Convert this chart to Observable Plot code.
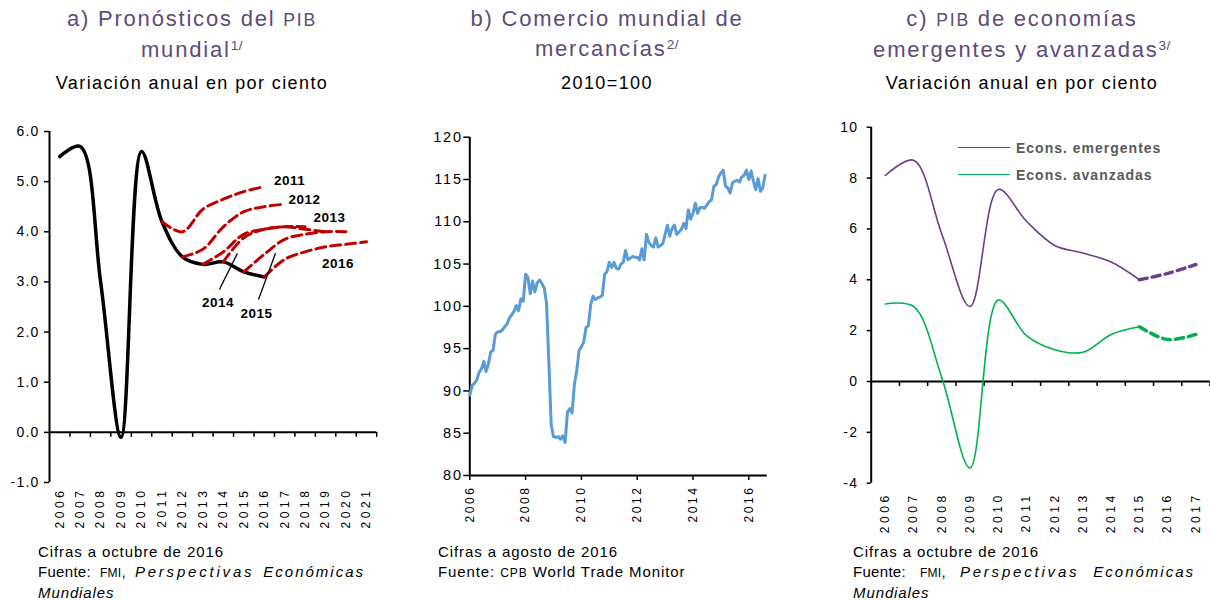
<!DOCTYPE html>
<html>
<head>
<meta charset="utf-8">
<script src="https://cdn.jsdelivr.net/npm/d3@7"></script>
<script src="https://cdn.jsdelivr.net/npm/@observablehq/plot@0.6"></script>
<style>
  body { margin: 0; background: #fff; font-family: "Liberation Sans", Arial, sans-serif; }
  #root { position: relative; width: 1210px; height: 600px; overflow: hidden; background: #fff; }
  .title { position: absolute; width: 400px; color: #604A7B; font-size: 22px; letter-spacing: 1.8px; line-height: 30px; text-align: center; white-space: nowrap; }
  .sub { position: absolute; width: 400px; color: #000; font-size: 18px; letter-spacing: 1.4px; line-height: 20px; text-align: center; white-space: nowrap; }
  .sc { font-size: 80%; }
  sup { font-size: 62%; line-height: 0; vertical-align: 0.55em; letter-spacing: 0.5px; }
  .note { position: absolute; font-size: 15px; letter-spacing: 0.9px; line-height: 20px; color: #000; white-space: nowrap; }
  .spread { display: flex; justify-content: space-between; }
  .spread span { display: inline-block; }
  .w1 { letter-spacing: 0.3px; }
  .w2 { letter-spacing: 0.3px; }
  .w3 { letter-spacing: 2.8px; font-style: italic; }
  .w4 { letter-spacing: 2px; font-style: italic; }
  .panel { position: absolute; top: 100px; }
  .legline { position: absolute; height: 0; }
  .legtext { position: absolute; font-size: 14px; font-weight: bold; color: #595959; letter-spacing: 1px; line-height: 18px; white-space: nowrap; }
</style>
</head>
<body>
<div id="root">
  <div class="title" style="left:-8px;top:4px;">a) Pronósticos del <span class="sc">PIB</span><br>mundial<sup>1/</sup></div>
  <div class="sub" style="left:-8px;top:73px;">Variación anual en por ciento</div>

  <div class="title" style="left:407px;top:4px;">b) Comercio mundial de<br>mercancías<sup>2/</sup></div>
  <div class="sub" style="left:407px;top:73px;">2010=100</div>

  <div class="title" style="left:822px;top:4px;">c) <span class="sc">PIB</span> de economías<br>emergentes y avanzadas<sup>3/</sup></div>
  <div class="sub" style="left:822px;top:73px;">Variación anual en por ciento</div>

  <div id="pa" class="panel" style="left:0px;"></div>
  <div id="pb" class="panel" style="left:420px;"></div>
  <div id="pc" class="panel" style="left:830px;"></div>

  <div class="legline" style="left:958px;top:146.5px;width:52px;border-top:1.6px solid #6B3F8B;"></div>
  <div class="legtext" style="left:1016px;top:138.5px;">Econs. emergentes</div>
  <div class="legline" style="left:958px;top:173.5px;width:52px;border-top:1.6px solid #00B050;"></div>
  <div class="legtext" style="left:1016px;top:165.5px;">Econs. avanzadas</div>

  <div class="note" style="left:38px;top:542px;width:327px;">
    <div>Cifras a octubre de 2016</div>
    <div class="spread"><span class="w1">Fuente:</span><span class="w2"><span class="sc">FMI</span>,</span><span class="w3">Perspectivas</span><span class="w4">Económicas</span></div>
    <div><i>Mundiales</i></div>
  </div>
  <div class="note" style="left:438px;top:542px;width:330px;">
    <div>Cifras a agosto de 2016</div>
    <div>Fuente: <span class="sc">CPB</span> World Trade Monitor</div>
  </div>
  <div class="note" style="left:853px;top:542px;width:342px;">
    <div>Cifras a octubre de 2016</div>
    <div class="spread"><span class="w1">Fuente:</span><span class="w2"><span class="sc">FMI</span>,</span><span class="w3">Perspectivas</span><span class="w4">Económicas</span></div>
    <div><i>Mundiales</i></div>
  </div>
</div>

<script>
// ---------------- Panel a: world GDP forecasts ----------------
const yearsA = [2006, 2007, 2008, 2009, 2010, 2011, 2012, 2013, 2014, 2015, 2016, 2017, 2018, 2019, 2020, 2021];
const yTicksA = [-1, 0, 1, 2, 3, 4, 5, 6];
const gdpYears = [2006, 2007, 2008, 2009, 2010, 2011, 2012, 2013, 2014, 2015, 2016];
const worldGdp = [5.5, 5.7, 3.0, -0.1, 5.6, 4.2, 3.5, 3.35, 3.4, 3.2, 3.1];
const vintages = ["2011", "2012", "2013", "2014", "2015", "2016"];
const forecast2011 = [4.2, 4.0, 4.45, 4.65, 4.8, 4.9];    // 2011-2016
const forecast2012 = [3.5, 3.65, 4.1, 4.4, 4.5, 4.55];    // 2012-2017
const forecast2013 = [3.35, 3.6, 3.95, 4.05, 4.1, 4.1];   // 2013-2018
const forecast2014 = [3.4, 3.88, 4.05, 4.1, 4.05, 4.0];   // 2014-2019
const forecast2015 = [3.2, 3.55, 3.85, 3.95, 4.0, 4.0];   // 2015-2020
const forecast2016 = [3.1, 3.45, 3.6, 3.7, 3.75, 3.8];    // 2016-2021
const forecastLabels = [
  {text: "2011", year: 2017.24, value: 5.01},
  {text: "2012", year: 2017.97, value: 4.64},
  {text: "2013", year: 2019.19, value: 4.28},
  {text: "2016", year: 2019.61, value: 3.36},
  {text: "2014", year: 2013.74, value: 2.58},
  {text: "2015", year: 2015.62, value: 2.36}
];
const leaders = [
  {year1: 2013.81, value1: 2.85, year2: 2014.69, value2: 3.57},
  {year1: 2015.72, value1: 2.65, year2: 2016.55, value2: 3.57}
];

// ---------------- Panel b: world trade ----------------
const tradeStartYear = 2006;
const tradeIndex = [
  89.5, 90.6, 90.9, 91.3, 92.2, 92.6, 93.5, 92.3, 93.2, 94.6, 94.8, 96.7,
  97.0, 97.0, 97.2, 97.6, 97.9, 98.6, 99.0, 99.4, 100.1, 99.5, 100.9, 100.6,
  103.8, 103.4, 101.5, 103.0, 101.7, 102.8, 103.1, 102.7, 102.2, 100.4, 93.5, 86.0,
  84.6, 84.5, 84.6, 84.3, 84.7, 83.9, 87.5, 87.9, 87.4, 90.8, 92.4, 94.8,
  95.2, 95.8, 97.5, 97.7, 100.2, 101.2, 100.8, 101.0, 101.1, 101.3, 103.8, 104.1,
  105.2, 104.6, 105.2, 104.5, 104.4, 105.0, 105.2, 106.6, 105.5, 105.7, 105.9, 105.8,
  105.8, 105.5, 106.8, 105.5, 108.5, 107.6, 107.2, 107.0, 108.1, 107.0, 107.2, 107.4,
  108.5, 109.6, 108.3, 109.2, 109.6, 108.5, 108.8, 109.1, 109.8, 109.2, 111.4, 110.3,
  111.0, 112.2, 111.0, 111.7, 111.7, 111.6, 112.0, 112.4, 112.6, 114.2, 114.4, 115.3,
  115.8, 116.1, 114.2, 114.0, 113.4, 114.6, 114.8, 114.9, 114.7, 115.3, 115.5, 116.1,
  115.0, 116.0, 114.8, 113.8, 115.1, 113.6, 114.0, 115.5
];
const yearsB = [2006, 2008, 2010, 2012, 2014, 2016];
const yTicksB = [80, 85, 90, 95, 100, 105, 110, 115, 120];

// ---------------- Panel c: emerging vs advanced ----------------
const yearsC = [2006, 2007, 2008, 2009, 2010, 2011, 2012, 2013, 2014, 2015, 2016, 2017];
const emerging = [8.1, 8.7, 5.8, 2.95, 7.55, 6.3, 5.35, 5.05, 4.7, 4.0, 4.25, 4.6];
const advanced = [3.05, 2.95, 0.15, -3.4, 3.2, 1.8, 1.25, 1.15, 1.85, 2.15, 1.65, 1.85];
const lastActualYear = 2015;
const yTicksC = [-4, -2, 0, 2, 4, 6, 8, 10];

const FONT = '"Liberation Sans", Arial, sans-serif';
const baseStyle = {fontFamily: FONT, fontSize: "14px", color: "#000", background: "none", overflow: "visible"};

function spacingAxis(svg, value) {
  d3.select(svg).selectAll('g[aria-label="y-axis tick label"] text').style("letter-spacing", value);
}
function spacingRotated(svg, value) {
  d3.select(svg).selectAll("text")
    .filter(function () { return (this.getAttribute("transform") || "").includes("rotate"); })
    .style("letter-spacing", value);
}
function spacingBold(svg, value) {
  d3.select(svg).selectAll('g[font-weight="bold"] text').style("letter-spacing", value);
}

// ----- build panel a -----
const forecastSets = [forecast2011, forecast2012, forecast2013, forecast2014, forecast2015, forecast2016];
const forecastRows = [];
vintages.forEach((v, k) => forecastSets[k].forEach((val, j) => forecastRows.push({vintage: v, year: +v + j, value: val})));
const gdpRows = gdpYears.map((y, i) => ({year: y, value: worldGdp[i]}));
const boundsA = yearsA.map(y => y + 0.5);

const plotA = Plot.plot({
  width: 400, height: 440,
  marginLeft: 49, marginRight: 23.8, marginTop: 31, marginBottom: 58,
  x: {domain: [2005.5, 2021.5], axis: null},
  y: {domain: [-1, 6], axis: null},
  style: baseStyle,
  marks: [
    Plot.axisY({ticks: yTicksA, label: null, tickSize: 5, tickPadding: 5, strokeWidth: 1.5, fontSize: 14, tickFormat: d => d.toFixed(1)}),
    Plot.ruleX([2005.5], {strokeWidth: 2}),
    Plot.ruleY([0], {x1: 2005.5, x2: 2021.5, strokeWidth: 2}),
    Plot.ruleX(boundsA, {y1: 0, y2: 0, insetBottom: -5, strokeWidth: 1.5}),
    Plot.line(gdpRows, {x: "year", y: "value", stroke: "#000", strokeWidth: 3.5, curve: "catmull-rom"}),
    Plot.line(forecastRows, {x: "year", y: "value", z: "vintage", stroke: "#C00000", strokeWidth: 3, strokeDasharray: "10,5", curve: "catmull-rom"}),
    Plot.link(leaders, {x1: "year1", y1: "value1", x2: "year2", y2: "value2", stroke: "#000", strokeWidth: 1.3}),
    Plot.text(forecastLabels, {x: "year", y: "value", text: "text", fontWeight: "bold", fontSize: 13.5, fill: "#000"}),
    Plot.text(yearsA, {x: d => d, text: d => String(d), frameAnchor: "bottom", rotate: -90, textAnchor: "end", lineAnchor: "middle", dy: 5, fontSize: 12})
  ]
});
spacingRotated(plotA, "3.6px");
spacingAxis(plotA, "1.2px");
spacingBold(plotA, "0.5px");
document.getElementById("pa").append(plotA);

// ----- build panel b -----
const tradeRows = tradeIndex.map((v, i) => ({t: tradeStartYear + i / 12, v}));
const plotB = Plot.plot({
  width: 380, height: 440,
  marginLeft: 49.3, marginRight: 33.3, marginTop: 36.7, marginBottom: 65,
  x: {domain: [2006, 2016.66], axis: null},
  y: {domain: [80, 120], axis: null},
  style: baseStyle,
  marks: [
    Plot.axisY({ticks: yTicksB, label: null, tickSize: 6, tickPadding: 1, strokeWidth: 1.5, fontSize: 14.5, tickFormat: d => String(d)}),
    Plot.ruleX([2006], {strokeWidth: 2}),
    Plot.ruleY([80], {x1: 2006, x2: 2016.66, strokeWidth: 2}),
    Plot.ruleX(yearsB, {y1: 80, y2: 80, insetBottom: -5, strokeWidth: 1.5}),
    Plot.line(tradeRows, {x: "t", y: "v", stroke: "#5B9BD5", strokeWidth: 3, strokeLinejoin: "round"}),
    Plot.text(yearsB, {x: d => d, text: d => String(d), frameAnchor: "bottom", rotate: -90, textAnchor: "end", lineAnchor: "middle", dy: 10, fontSize: 12})
  ]
});
spacingRotated(plotB, "2.6px");
spacingAxis(plotB, "1.8px");
document.getElementById("pb").append(plotB);

// ----- build panel c -----
const rowsC = [];
yearsC.forEach((y, i) => {
  rowsC.push({series: "emerging", year: y, value: emerging[i]});
  rowsC.push({series: "advanced", year: y, value: advanced[i]});
});
const actualC = rowsC.filter(d => d.year <= lastActualYear);
const projC = rowsC.filter(d => d.year >= lastActualYear);
const colorC = {emerging: "#6B3F8B", advanced: "#00B050"};
const boundsC = yearsC.map(y => y + 0.5);

const plotC = Plot.plot({
  width: 380, height: 440,
  marginLeft: 40.7, marginRight: 0.5, marginTop: 26.7, marginBottom: 57.3,
  x: {domain: [2005.5, 2017.5], axis: null},
  y: {domain: [-4, 10], axis: null},
  style: baseStyle,
  marks: [
    Plot.axisY({ticks: yTicksC, label: null, tickSize: 4, tickPadding: 9, strokeWidth: 1.5, fontSize: 14, tickFormat: d => String(d)}),
    Plot.ruleX([2005.5], {strokeWidth: 2}),
    Plot.ruleY([0], {x1: 2005.5, x2: 2017.5, strokeWidth: 2}),
    Plot.ruleX(boundsC, {y1: 0, y2: 0, insetBottom: -5, strokeWidth: 1.5}),
    Plot.line(actualC, {x: "year", y: "value", z: "series", stroke: d => colorC[d.series], strokeWidth: 1.6, curve: "catmull-rom"}),
    Plot.line(projC, {x: "year", y: "value", z: "series", stroke: d => colorC[d.series], strokeWidth: 3.5, strokeDasharray: "8,5", curve: "catmull-rom"}),
    Plot.text(yearsC, {x: d => d, text: d => String(d), frameAnchor: "bottom", rotate: -90, textAnchor: "end", lineAnchor: "middle", dy: 9, fontSize: 12})
  ]
});
spacingRotated(plotC, "3.6px");
spacingAxis(plotC, "1.2px");
document.getElementById("pc").append(plotC);
</script>
</body>
</html>
